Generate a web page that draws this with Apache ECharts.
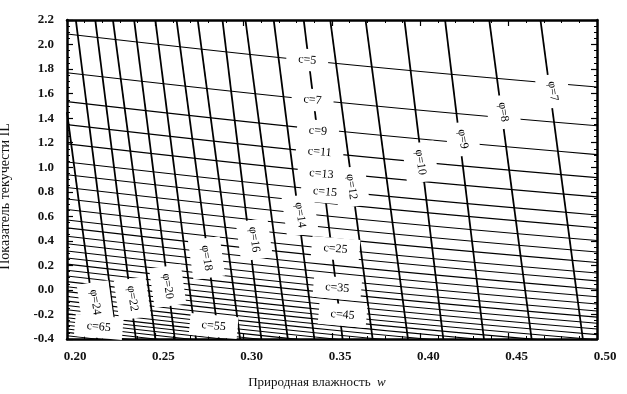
<!DOCTYPE html>
<html><head><meta charset="utf-8">
<script src="https://cdn.jsdelivr.net/npm/echarts@6/dist/echarts.min.js"></script>
<style>html,body{margin:0;padding:0;background:#fff}#c{width:627px;height:394px}</style>
</head><body><div id="c"></div>
<script>
// φ (friction angle) lines: top point and bottom point (IL = -0.4)
const phiValues   = [7,8,9,10,11,12,13,14,15,16,17,18,19,20,21,22,23,24];
const phiTopW     = [0.468,0.439,0.414,0.391,0.369,0.349,0.334,0.317,0.301,0.288,0.274,0.262,0.250,0.238,0.226,0.216,0.205,0.200];
const phiTopIL    = [2.2,2.2,2.2,2.2,2.2,2.2,2.2,2.2,2.2,2.2,2.2,2.2,2.2,2.2,2.2,2.2,2.2,1.45];
const phiBottomW  = [0.492,0.463,0.436,0.413,0.393,0.373,0.356,0.340,0.325,0.310,0.298,0.286,0.273,0.261,0.250,0.239,0.228,0.217];

// c (cohesion) lines: IL read at w = 0.20, 0.35 and 0.50
const cValues  = [5,7,9,11,13,15,17,19,21,23,25,27,29,31,33,35,37,39,41,43,45,47,49,51,53,55,57,59,61,63,65,67,69];
const cLeftIL  = [2.086,1.770,1.535,1.347,1.190,1.043,0.939,0.835,0.741,0.656,0.570,0.506,0.438,0.376,0.317,0.260,0.210,0.160,0.113,0.068,0.026,-0.014,-0.053,-0.091,-0.127,-0.162,-0.195,-0.227,-0.258,-0.288,-0.318,-0.346,-0.374];
const cMidIL   = [1.850,1.534,1.299,1.111,0.954,0.807,0.703,0.599,0.505,0.420,0.334,0.270,0.202,0.140,0.081,0.024,-0.026,-0.076,-0.123,-0.168,-0.210,-0.250,-0.289,-0.327,-0.363,-0.398,-0.431,-0.463,-0.494,-0.524,-0.554,-0.582,-0.610];
const cRightIL = [1.654,1.338,1.103,0.915,0.758,0.611,0.507,0.403,0.309,0.224,0.138,0.074,0.006,-0.056,-0.115,-0.172,-0.222,-0.272,-0.319,-0.364,-0.406,-0.446,-0.485,-0.523,-0.559,-0.594,-0.627,-0.659,-0.690,-0.720,-0.750,-0.778,-0.806];
const cW = [0.20, 0.35, 0.50];

// in-chart labels
const phiLabelText = ['φ=7','φ=8','φ=9','φ=10','φ=12','φ=14','φ=16','φ=18','φ=20','φ=22','φ=24'];
const phiLabelW    = [0.475,0.447,0.424,0.400,0.361,0.332,0.306,0.279,0.257,0.237,0.216];
const phiLabelIL   = [1.62,1.45,1.23,1.04,0.84,0.61,0.41,0.26,0.03,-0.07,-0.10];
const cLabelText = ['c=5','c=7','c=9','c=11','c=13','c=15','c=25','c=35','c=45','c=55','c=65'];
const cLabelW    = [0.336,0.339,0.342,0.343,0.344,0.346,0.352,0.353,0.356,0.283,0.218];
const cLabelIL   = [1.874,1.548,1.295,1.124,0.945,0.798,0.334,0.016,-0.204,-0.294,-0.302];

const FONT = 'Liberation Serif';
const chart = echarts.init(document.getElementById('c'), null, {renderer:'canvas'});

const series = [];
phiValues.forEach((p,i)=>{
  series.push({type:'line', name:'phi'+p, silent:true, symbol:'none', z:2,
    lineStyle:{color:'#000', width:1.8},
    data:[[phiTopW[i], phiTopIL[i]], [phiBottomW[i], -0.4]]});
});
cValues.forEach((c,i)=>{
  series.push({type:'line', name:'c'+c, silent:true, symbol:'none', z:2, smooth:0.4,
    lineStyle:{color:'#000', width:1.1},
    data:[[cW[0], cLeftIL[i]], [cW[1], cMidIL[i]], [cW[2], cRightIL[i]]]});
});
function labelSeries(texts, ws, ils, rot, pad){
  return {type:'scatter', z:10, zlevel:1, silent:true, symbolSize:1, itemStyle:{color:'#fff', opacity:1},
    emphasis:{disabled:true},
    data: texts.map((t,i)=>({value:[ws[i], ils[i]], name:t})),
    label:{show:true, position:'inside', formatter:p=>p.name, rotate:rot, fontFamily:FONT, fontSize:12, color:'#000',
      opacity:1, backgroundColor:'#ffffff', padding:pad}};
}
series.push(labelSeries(phiLabelText, phiLabelW, phiLabelIL, -82, [10,7]));
series.push(labelSeries(cLabelText, cLabelW, cLabelIL, -5, [5,12]));

const axisCommon = {
  axisLine:{show:true, onZero:false, lineStyle:{color:'#000', width:2.5}},
  axisTick:{show:true, inside:true, length:6, lineStyle:{color:'#000', width:1.2}},
  splitLine:{show:false}
};
const xMinor = {minorTick:{show:true, splitNumber:5, length:3, lineStyle:{color:'#000', width:1}}};
const yMinor = {minorTick:{show:true, splitNumber:4, length:3, lineStyle:{color:'#000', width:1}}};
chart.setOption({
  animation:false,
  backgroundColor:'#fff',
  grid:{left:67, right:30, top:20, bottom:55, containLabel:false, outerBoundsMode:'none'},
  xAxis:[
    Object.assign({type:'value', position:'bottom', min:0.2, max:0.5, interval:0.05,
      axisLabel:{formatter:v=>v.toFixed(2), fontFamily:FONT, fontSize:13, fontWeight:'bold', color:'#111', margin:11,
        padding:[0,0,0,16], alignMinLabel:'center', alignMaxLabel:'center'},
      name:'{a|Природная влажность}  {b|w}', nameLocation:'middle', nameGap:37,
      nameTextStyle:{fontFamily:FONT, fontSize:13, color:'#111', padding:[0,30,0,0],
        rich:{a:{fontFamily:FONT, fontSize:13, color:'#111'}, b:{fontFamily:FONT, fontSize:13, fontStyle:'italic', color:'#111'}}}
    }, axisCommon, xMinor),
    Object.assign({type:'value', position:'top', min:0.2, max:0.5, interval:0.05, axisLabel:{show:false}}, axisCommon, xMinor)
  ],
  yAxis:[
    Object.assign({type:'value', position:'left', min:-0.4, max:2.2, interval:0.2,
      axisLabel:{formatter:v=>v.toFixed(1), fontFamily:FONT, fontSize:13, fontWeight:'bold', color:'#111', margin:13},
      name:'Показатель текучести IL', nameLocation:'middle', nameGap:55,
      nameTextStyle:{fontFamily:FONT, fontSize:14, color:'#111', padding:[0,34,0,0]}
    }, axisCommon, yMinor),
    Object.assign({type:'value', position:'right', min:-0.4, max:2.2, interval:0.2, axisLabel:{show:false}}, axisCommon, yMinor)
  ],
  series: series
});
</script></body></html>
